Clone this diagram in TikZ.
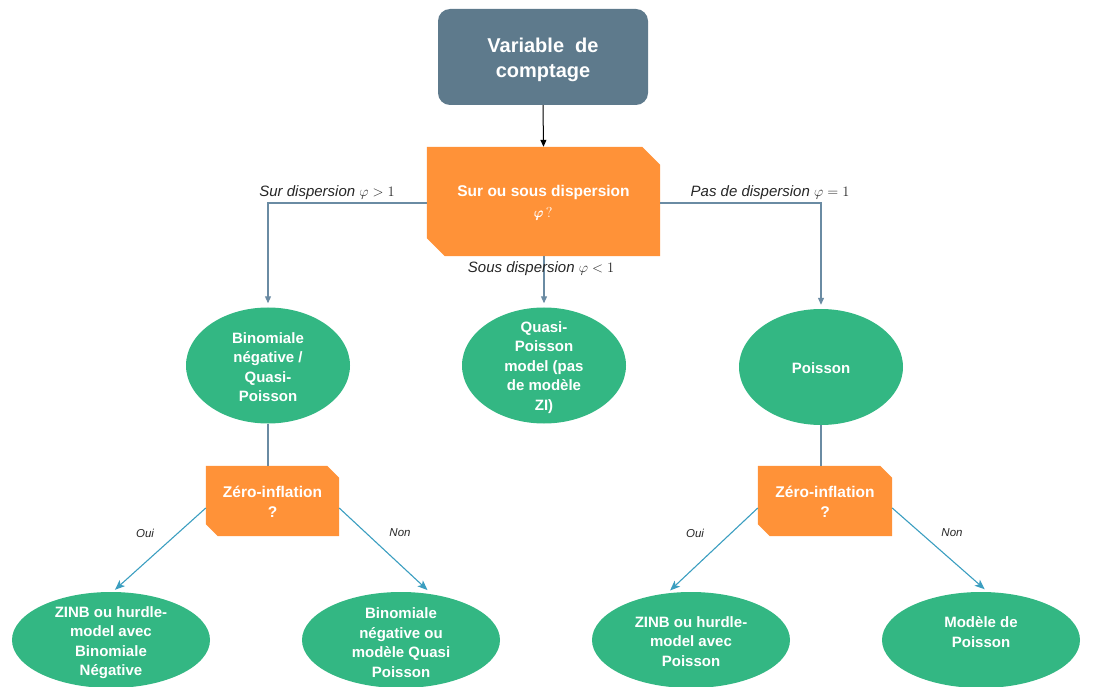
\documentclass[tikz,border=0pt]{standalone}
\usepackage{amsmath}
\usepackage{fontspec}
\setmainfont{Liberation Sans}
\usetikzlibrary{shapes.geometric,arrows.meta,backgrounds}
\definecolor{slate}{HTML}{5E7A8C}
\definecolor{orng}{HTML}{FF9238}
\definecolor{grn}{HTML}{33B783}
\definecolor{conn}{HTML}{6A8BA3}
\definecolor{teal}{HTML}{3B9EC0}
\definecolor{lbl}{HTML}{262626}
\begin{document}
\begin{tikzpicture}[x=1pt,y=-1pt,
  topbox/.style={rectangle, rounded corners=12pt, fill=slate, minimum width=210pt, minimum height=96pt, inner sep=0pt},
  qbox/.style={rectangle, inner sep=0pt},
  ell/.style={ellipse, fill=grn, inner sep=0pt},
  midell/.style={ell, minimum width=164pt, minimum height=116pt},
  botell/.style={ell, minimum width=198pt, minimum height=96pt},
  wtext/.style={text=white, font=\fontsize{15}{19.5}\selectfont\bfseries, align=center, inner sep=0pt},
  toptext/.style={wtext, font=\fontsize{20}{25}\selectfont\bfseries},
  qtext/.style={wtext, font=\fontsize{15.5}{20.5}\selectfont\bfseries},
  gline/.style={draw=conn, line width=1.1pt},
  garrow/.style={gline, -{Triangle[length=7pt,width=6pt]}},
  tarrow/.style={draw=teal, line width=1.1pt, -{Stealth[length=10pt,width=8pt,inset=2.5pt]}},
  elab/.style={text=lbl, font=\fontsize{15}{18}\selectfont\itshape, inner sep=0pt},
  slab/.style={text=lbl, font=\fontsize{11.5}{14}\selectfont\itshape, inner sep=0pt}
]
\useasboundingbox (0,0) rectangle (1096,687);

% top
\node[topbox] (v) at (543,57) {};
\node[toptext] (vt) at (543,59.5) {Variable\ \ de\\comptage};
\node[qbox, minimum width=233pt, minimum height=109pt] (q) at (543.5,201.5) {};
\node[qtext] (qt) at (543.5,203) {Sur ou sous dispersion\\$\pmb{\varphi}\,?$};
\draw[black, line width=1pt, -{Triangle[length=7pt,width=6pt]}] (v.south) -- (q.north);

% middle row
\node[midell] (e1) at (268,365.5) {};
\node[wtext] (e1t) at (268,367) {Binomiale\\négative /\\Quasi-\\Poisson};
\node[midell] (e2) at (544,365.5) {};
\node[wtext] (e2t) at (544,367.5) {Quasi-\\Poisson\\model (pas\\de modèle\\ZI)};
\node[midell] (e3) at (821,367) {};
\node[wtext] (e3t) at (821,368) {Poisson};

\draw[garrow, shorten >=4pt] ([yshift=-1.5pt]q.west) -| (e1.north);
\draw[garrow, shorten >=4pt] ([yshift=-1.5pt]q.east) -| (e3.north);
\draw[garrow, shorten >=4pt] (q.south -| e2.north) -- (e2.north);

\node[elab, anchor=base] (l1) at (327,197) {Sur dispersion $\varphi > 1$};
\node[elab, anchor=base] (l2) at (770,197) {Pas de dispersion $\varphi = 1$};
\node[elab, anchor=base] (l3) at (541,273) {Sous dispersion $\varphi < 1$};

% zero inflation boxes
\node[qbox, minimum width=133pt, minimum height=70pt] (z1) at (272.5,501) {};
\node[qtext] (z1t) at (272.5,502) {Zéro-inflation\\?};
\node[qbox, minimum width=134pt, minimum height=70pt] (z2) at (825,501) {};
\node[qtext] (z2t) at (825,502) {Zéro-inflation\\?};
\draw[gline] (e1.south) -- (e1.south |- z1.north);
\draw[gline] (e3.south) -- (e3.south |- z2.north);

% bottom row
\node[botell] (b1) at (111,640) {};
\node[wtext] (b1t) at (111,642.5) {ZINB ou hurdle-\\model avec\\Binomiale\\Négative};
\node[botell] (b2) at (401,640) {};
\node[wtext] (b2t) at (401,642.5) {Binomiale\\négative ou\\modèle Quasi\\Poisson};
\node[botell] (b3) at (691,640) {};
\node[wtext] (b3t) at (691,641.5) {ZINB ou hurdle-\\model avec\\Poisson};
\node[botell] (b4) at (981,640) {};
\node[wtext] (b4t) at (981,632) {Modèle de\\Poisson};

\draw[tarrow, shorten >=3pt] ([yshift=-7pt]z1.west) -- (b1.88);
\draw[tarrow, shorten >=6pt] ([yshift=-7pt]z1.east) -- (b2.56);
\draw[tarrow, shorten >=4pt] ([yshift=-7pt]z2.west) -- (b3.117);
\draw[tarrow, shorten >=4pt] ([yshift=-7pt]z2.east) -- (b4.82);

\node[slab] (o1) at (145,533) {Oui};
\node[slab] (n1) at (400,533) {Non};
\node[slab] (o2) at (695,533) {Oui};
\node[slab] (n2) at (952,533) {Non};

% orange snipped shapes
\begin{scope}[on background layer]
\fill[orng] (q.north west) -- ([xshift=-18pt]q.north east) -- ([yshift=-18pt]q.north east)
  -- (q.south east) -- ([xshift=18pt]q.south west) -- ([yshift=18pt]q.south west) -- cycle;
\fill[orng] (z1.north west) -- ([xshift=-12pt]z1.north east) -- ([yshift=-12pt]z1.north east)
  -- (z1.south east) -- ([xshift=12pt]z1.south west) -- ([yshift=12pt]z1.south west) -- cycle;
\fill[orng] (z2.north west) -- ([xshift=-12pt]z2.north east) -- ([yshift=-12pt]z2.north east)
  -- (z2.south east) -- ([xshift=12pt]z2.south west) -- ([yshift=12pt]z2.south west) -- cycle;
\end{scope}
\end{tikzpicture}
\end{document}
